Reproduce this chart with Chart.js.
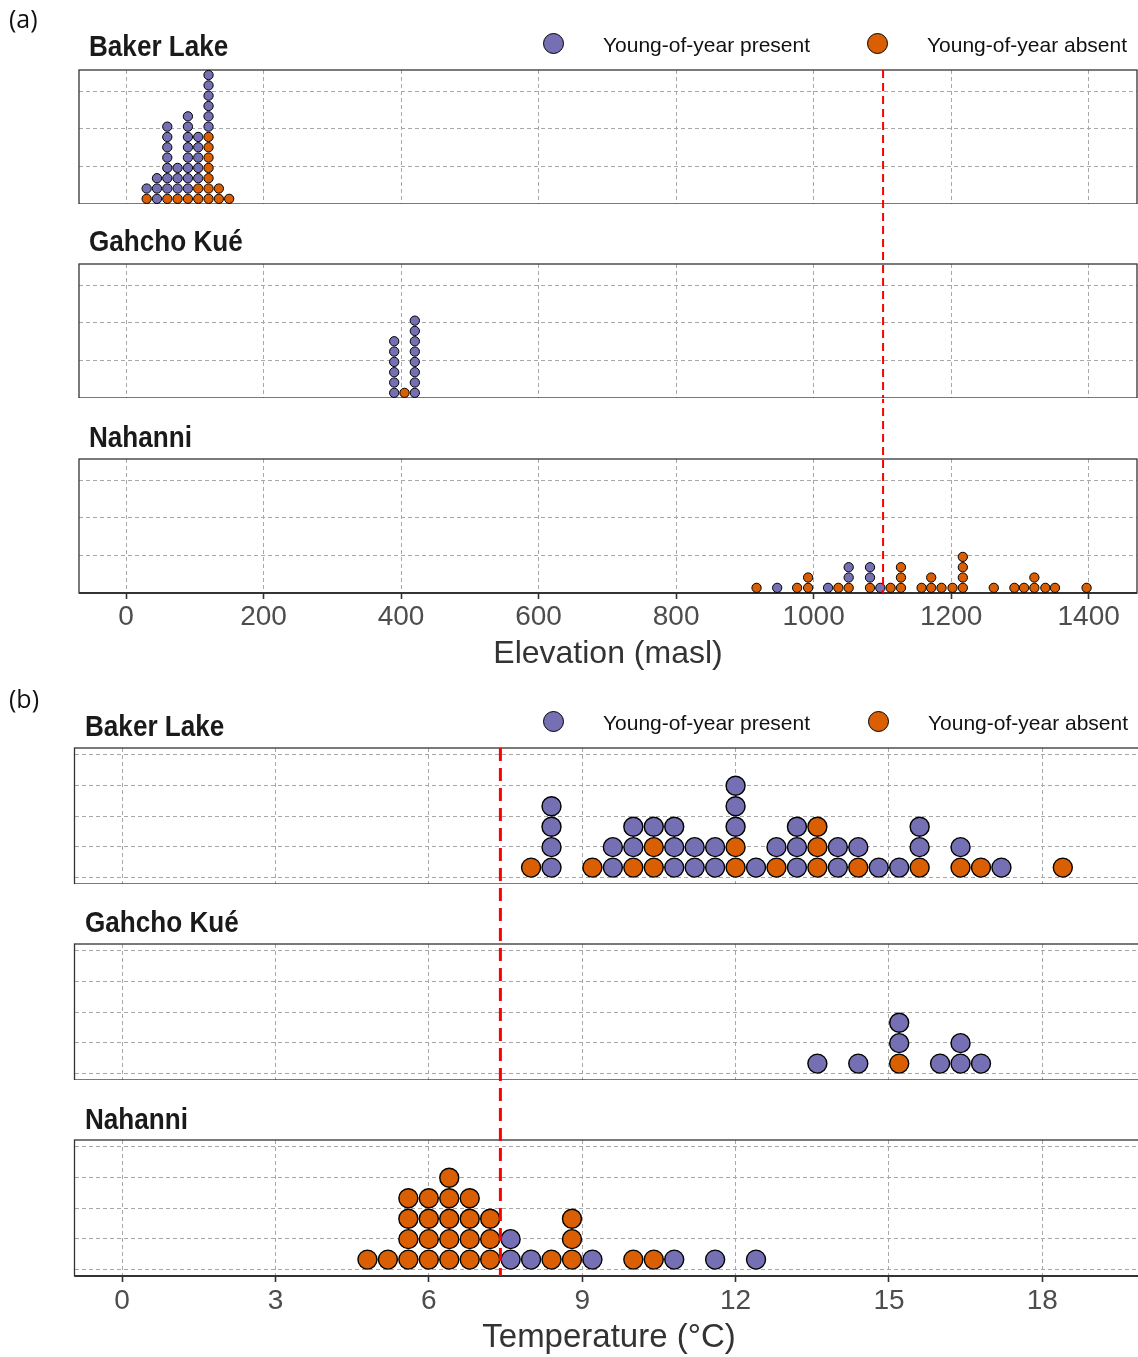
<!DOCTYPE html>
<html>
<head>
<meta charset="utf-8">
<script src="https://cdn.jsdelivr.net/npm/chart.js@4.4.1/dist/chart.umd.min.js"></script>
<style>
  html, body { margin: 0; padding: 0; background: #fff; overflow: hidden; }
  #fig { position: relative; width: 1138px; height: 1357px; overflow: hidden; background: #fff; }
  .txt { position: absolute; white-space: nowrap; line-height: 1; }
  .key { position: absolute; box-sizing: border-box; border-radius: 50%; border: 1.5px solid #000; }
</style>
</head>
<body>
<div id="fig"></div>
<script>
// ---------------- data ----------------
const SITES = ['Baker Lake', 'Gahcho Kué', 'Nahanni'];
const LEGEND_LABELS = ['Young-of-year present', 'Young-of-year absent'];
const ELEV_TICKS = [0, 200, 400, 600, 800, 1000, 1200, 1400];
const TEMP_TICKS = [0, 3, 6, 9, 12, 15, 18];
const ELEV_TITLE = 'Elevation (masl)';
const TEMP_TITLE = 'Temperature (°C)';
const ELEV_LIMIT = 1101;   // elevation threshold (masl)
const TEMP_LIMIT = 7.4;    // temperature threshold (°C)
const ELEV_BINWIDTH = 15;
const TEMP_BINWIDTH = 0.4;

// Each stack lists its dots bottom-up: P = young-of-year present, A = absent
const bakerElevX = [30, 45, 60, 75, 90, 105, 120, 135, 150];
const bakerElevStacks = ['AP', 'PPP', 'APPPPPPP', 'APPP', 'APPPPPPPP', 'AAPPPPP', 'AAAAAAAPPPPPP', 'AA', 'A'];
const gahchoElevX = [390, 405, 420];
const gahchoElevStacks = ['PPPPPP', 'A', 'PPPPPPPP'];
const nahanniElevX = [917, 947, 976, 992, 1021, 1036, 1051, 1082, 1097, 1112, 1127, 1157, 1171, 1186, 1202, 1217, 1262, 1292, 1306, 1321, 1337, 1351, 1397];
const nahanniElevStacks = ['A', 'P', 'A', 'AA', 'P', 'A', 'APP', 'APP', 'P', 'A', 'AAA', 'A', 'AA', 'A', 'A', 'AAAA', 'A', 'A', 'A', 'AA', 'A', 'A', 'A'];

const bakerTempX = [8.0, 8.4, 9.2, 9.6, 10.0, 10.4, 10.8, 11.2, 11.6, 12.0, 12.4, 12.8, 13.2, 13.6, 14.0, 14.4, 14.8, 15.2, 15.6, 16.4, 16.8, 17.2, 18.4];
const bakerTempStacks = ['A', 'PPPP', 'A', 'PP', 'APP', 'AAP', 'PPP', 'PP', 'PP', 'AAPPP', 'P', 'AP', 'PPP', 'AAA', 'PP', 'AP', 'P', 'P', 'APP', 'AP', 'A', 'P', 'A'];
const gahchoTempX = [13.6, 14.4, 15.2, 16.0, 16.4, 16.8];
const gahchoTempStacks = ['P', 'P', 'APP', 'P', 'PP', 'P'];
const nahanniTempX = [4.8, 5.2, 5.6, 6.0, 6.4, 6.8, 7.2, 7.6, 8.0, 8.4, 8.8, 9.2, 10.0, 10.4, 10.8, 11.6, 12.4];
const nahanniTempStacks = ['A', 'A', 'AAAA', 'AAAA', 'AAAAA', 'AAAA', 'AAA', 'PP', 'P', 'A', 'AAA', 'P', 'A', 'A', 'P', 'P', 'P'];

// ---------------- styling ----------------
const PURPLE = '#7570b3';
const ORANGE = '#d95f02';
const GRID = '#a8a8a8';
const FRAME = '#333333';
const SANS = "'Liberation Sans', Arial, Helvetica, sans-serif";
const TAG_FONT = "'Open Sans', 'Liberation Sans', sans-serif";

const LAYOUT = {
  a: { left: 79, right: 1137, canvasW: 1138, xMin: -68.4, xMax: 1470.3, yMin: 0, yMax: 0.891,
       panelH: 134, tops: [70, 264, 459], gap: 60, binwidth: ELEV_BINWIDTH, ticks: ELEV_TICKS,
       limit: ELEV_LIMIT, radius: 4.65, border: 1, tickPad: 1.5,
       red: { width: 2, dash: [8, 5] } },
  b: { left: 74.5, right: 1140, canvasW: 1142, xMin: -0.93, xMax: 19.91, yMin: -0.05, yMax: 1.05,
       panelH: 136, tops: [748, 944, 1140], gap: 60, binwidth: TEMP_BINWIDTH, ticks: TEMP_TICKS,
       limit: TEMP_LIMIT, radius: 9.5, border: 1.4, tickPad: 2.5,
       red: { width: 3, dash: [13, 7] } }
};

const fig = document.getElementById('fig');

// panel border, with a heavier bottom axis line on the lowest panel
const panelFrame = {
  id: 'panelFrame',
  beforeDatasetsDraw(chart, args, o) {
    const { ctx, chartArea: a } = chart;
    ctx.save();
    ctx.strokeStyle = FRAME;
    ctx.lineWidth = 1.3;
    ctx.strokeRect(a.left, a.top, a.right - a.left, a.bottom - a.top);
    if (o.axis) {
      ctx.lineWidth = 2.2;
      ctx.beginPath();
      ctx.moveTo(a.left, a.bottom);
      ctx.lineTo(a.right, a.bottom);
      ctx.stroke();
    }
    ctx.restore();
  }
};

// dashed threshold line running through all three panels of a figure
const limitLine = {
  id: 'limitLine',
  afterDatasetsDraw(chart, args, o) {
    const { ctx, chartArea: a, scales } = chart;
    const px = scales.x.getPixelForValue(o.value);
    const y0 = o.fromCanvasTop ? 0 : a.top;
    ctx.save();
    ctx.strokeStyle = '#ff0000';
    ctx.lineWidth = o.width;
    ctx.setLineDash(o.dash);
    ctx.lineDashOffset = o.canvasTop + y0 - o.origin;
    ctx.beginPath();
    ctx.moveTo(px, y0);
    ctx.lineTo(px, a.bottom);
    ctx.stroke();
    ctx.restore();
  }
};

function makePanel(key, idx, xs, stacks) {
  const g = LAYOUT[key];
  const isBottom = idx === 2;
  const axisH = isBottom ? 50 : 0;
  const canvasTop = g.tops[idx] - g.gap;
  const W = g.canvasW;
  const H = g.gap + g.panelH + axisH;

  const cv = document.createElement('canvas');
  cv.width = W; cv.height = H;
  cv.style.cssText = `position:absolute;left:0;top:${canvasTop}px;width:${W}px;height:${H}px;`;
  fig.appendChild(cv);

  // one dot is one bin wide; its height in y units keeps it round
  const pxPerX = (g.right - g.left) / (g.xMax - g.xMin);
  const pxPerY = g.panelH / (g.yMax - g.yMin);
  const dotH = g.binwidth * pxPerX / pxPerY;

  const present = [], absent = [];
  xs.forEach((x, i) => {
    [...stacks[i]].forEach((c, k) => {
      (c === 'P' ? present : absent).push({ x: x, y: (k + 0.5) * dotH });
    });
  });

  const pointStyle = (color) => ({
    backgroundColor: color, borderColor: '#000', borderWidth: g.border,
    pointRadius: g.radius, pointHoverRadius: g.radius, clip: false
  });

  new Chart(cv, {
    type: 'scatter',
    data: {
      datasets: [
        Object.assign({ label: LEGEND_LABELS[0], data: present }, pointStyle(PURPLE)),
        Object.assign({ label: LEGEND_LABELS[1], data: absent }, pointStyle(ORANGE))
      ]
    },
    options: {
      responsive: false,
      animation: false,
      devicePixelRatio: 1,
      events: [],
      layout: { autoPadding: false, padding: { left: g.left, right: W - g.right, top: g.gap, bottom: 0 } },
      plugins: {
        legend: { display: false },
        tooltip: { enabled: false },
        panelFrame: { axis: isBottom },
        limitLine: { value: g.limit, width: g.red.width, dash: g.red.dash,
                     fromCanvasTop: idx > 0, canvasTop: canvasTop, origin: g.tops[0] }
      },
      scales: {
        x: {
          type: 'linear', position: 'bottom', min: g.xMin, max: g.xMax,
          afterBuildTicks: (s) => { s.ticks = g.ticks.map(v => ({ value: v })); },
          afterFit: (s) => { s.height = axisH; },
          ticks: {
            display: isBottom, autoSkip: false, maxRotation: 0, minRotation: 0,
            padding: g.tickPad, color: '#4d4d4d',
            font: { family: SANS, size: 28 },
            callback: (v) => String(v)
          },
          grid: { color: GRID, lineWidth: 1, drawTicks: isBottom, tickLength: 6,
                  tickColor: FRAME, tickWidth: 1.6 },
          border: { display: false, dash: [4, 3] }
        },
        y: {
          type: 'linear', min: g.yMin, max: g.yMax,
          afterBuildTicks: (s) => {
            s.ticks = [0, 0.25, 0.5, 0.75, 1].filter(v => v >= s.min && v <= s.max).map(v => ({ value: v }));
          },
          afterFit: (s) => { s.width = 0; },
          ticks: { display: false },
          grid: { color: GRID, lineWidth: 1, drawTicks: false },
          border: { display: false, dash: [4, 3] }
        }
      }
    },
    plugins: [panelFrame, limitLine]
  });
}

// text placed by its baseline (line-height 1)
function addText(str, opt) {
  const d = document.createElement('div');
  d.className = 'txt';
  d.textContent = str;
  const k = opt.family === TAG_FONT ? 0.888 : 0.8465;
  d.style.fontFamily = opt.family || SANS;
  d.style.fontSize = opt.size + 'px';
  d.style.fontWeight = opt.weight || 'normal';
  d.style.color = opt.color || '#000';
  d.style.top = (opt.baseline - k * opt.size) + 'px';
  let tf = '';
  if (opt.center !== undefined) {
    d.style.left = opt.center + 'px';
    tf += 'translateX(-50%) ';
  } else {
    d.style.left = opt.left + 'px';
  }
  if (opt.scaleX) { tf += `scaleX(${opt.scaleX})`; d.style.transformOrigin = 'left center'; }
  if (tf) d.style.transform = tf;
  fig.appendChild(d);
}

function addKey(cx, cy, color) {
  const d = document.createElement('div');
  d.className = 'key';
  d.style.width = '21px'; d.style.height = '21px';
  d.style.left = (cx - 10.5) + 'px'; d.style.top = (cy - 10.5) + 'px';
  d.style.background = color;
  fig.appendChild(d);
}

// ---------------- (a) elevation ----------------
makePanel('a', 0, bakerElevX, bakerElevStacks);
makePanel('a', 1, gahchoElevX, gahchoElevStacks);
makePanel('a', 2, nahanniElevX, nahanniElevStacks);

// ---------------- (b) temperature ----------------
makePanel('b', 0, bakerTempX, bakerTempStacks);
makePanel('b', 1, gahchoTempX, gahchoTempStacks);
makePanel('b', 2, nahanniTempX, nahanniTempStacks);

// figure tags
addText('(a)', { left: 9, baseline: 28, size: 25, family: TAG_FONT, color: '#111' });
addText('(b)', { left: 9, baseline: 708, size: 25, family: TAG_FONT, color: '#111' });

// strip titles
const titleBaseA = [56, 251, 447];
const titleBaseB = [736, 932, 1129];
SITES.forEach((s, i) => {
  addText(s, { left: 89, baseline: titleBaseA[i], size: 30, weight: 'bold', color: '#1a1a1a', scaleX: 0.87 });
  addText(s, { left: 85, baseline: titleBaseB[i], size: 30, weight: 'bold', color: '#1a1a1a', scaleX: 0.87 });
});

// legends
addKey(553.5, 43, PURPLE);
addKey(877.5, 43, ORANGE);
addText(LEGEND_LABELS[0], { left: 603, baseline: 51.5, size: 21, color: '#111' });
addText(LEGEND_LABELS[1], { left: 927, baseline: 51.5, size: 21, color: '#111' });
addKey(553, 721, PURPLE);
addKey(878, 721, ORANGE);
addText(LEGEND_LABELS[0], { left: 603, baseline: 729.5, size: 21, color: '#111' });
addText(LEGEND_LABELS[1], { left: 928, baseline: 729.5, size: 21, color: '#111' });

// axis titles
addText(ELEV_TITLE, { center: 608, baseline: 663, size: 32, color: '#333' });
addText(TEMP_TITLE, { center: 609, baseline: 1347, size: 33, color: '#333' });
</script>
</body>
</html>
